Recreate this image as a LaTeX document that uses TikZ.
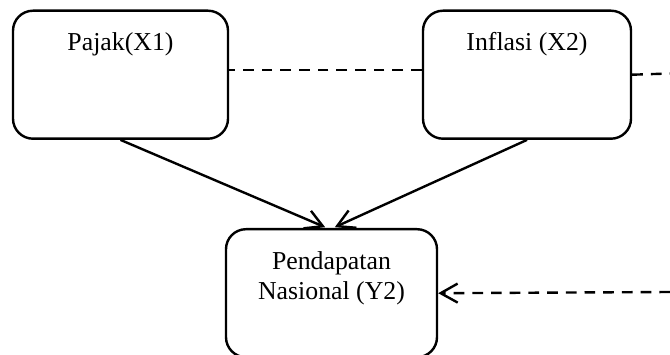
\documentclass[tikz,border=0pt]{standalone}
\usepackage{fontspec}
\setmainfont{Liberation Serif}
\usetikzlibrary{arrows.meta}

\tikzset{
  var/.style={draw,rounded corners=20pt,line width=2.4pt,inner sep=0pt,anchor=north,
    align=center,text height=40pt,text depth=88pt,font=\fontsize{25.8}{30}\selectfont},
  link/.style={line width=2.4pt,dash pattern=on 10.7pt off 8pt}
}

\begin{document}
\begin{tikzpicture}
		[x=1pt,y=1pt,>={Straight Barb[length=17pt,width=19pt]}]
		\useasboundingbox (0,0) rectangle (670,354);
		\node[var,minimum width=215pt] (pajak) at (120.5,344.5) {Pajak(X1)};
		\node[var,minimum width=208pt] (inflasi) at (527,344.5) {Inflasi (X2)};
		\node[var,minimum width=211pt,text height=70pt,text depth=58pt] (pendapatan) at (331.5,126) {Pendapatan\\Nasional (Y2)};
		\coordinate (ujung1) at (670,280.5);
		\coordinate (ujung2) at (670,62);

		\draw[link] ([yshift=4.5pt]inflasi.west) -- ([yshift=4.5pt]pajak.east);
		\draw[link] (inflasi.east) -- (ujung1);
		\draw[link][->] (ujung2) -- (pendapatan.east);
		\draw[line width=2.4pt][->,shorten >=2pt] (pajak.south) -- ([xshift=-4.5pt]pendapatan.north);
		\draw[line width=2.4pt][->,shorten >=2pt] (inflasi.south) -- ([xshift=1.5pt]pendapatan.north);

	\end{tikzpicture}
\end{document}
